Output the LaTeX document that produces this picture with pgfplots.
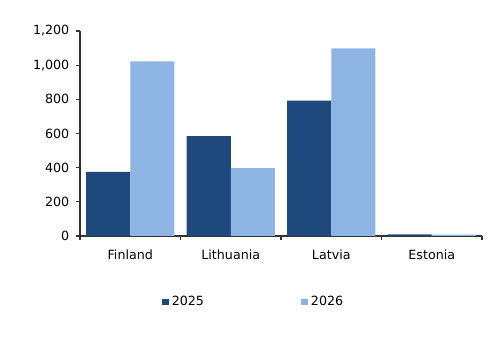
\documentclass[border=0pt]{standalone}
\usepackage{fontspec}
\setmainfont{DejaVu Sans}
\usepackage{pgfplots}
\pgfplotsset{compat=1.18}
\definecolor{dark}{RGB}{31,73,125}
\definecolor{light}{RGB}{141,180,226}
\begin{document}
\begin{tikzpicture}
\path[use as bounding box] (0,0) rectangle (375pt,264.75pt);
\begin{axis}[
  at={(60pt,87.75pt)}, anchor=south west,
  scale only axis, width=301.5pt, height=153.75pt,
  xmin=-0.5, xmax=3.5, ymin=0, ymax=1200,
  axis x line*=bottom, axis y line*=left,
  axis line style={black!80, line width=0.8pt},
  ytick={0,200,...,1200},
  xtick={0,1,2,3},
  xticklabels={Finland,Lithuania,Latvia,Estonia},
  minor xtick={-0.5,0.5,1.5,2.5,3.5},
  major x tick style={draw=none},
  minor x tick style={black!80, line width=0.8pt},
  y tick style={black!80, line width=0.8pt},
  tick align=outside, major tick length=3pt, minor tick length=3pt,
  /pgf/number format/1000 sep={,},
  /pgf/number format/assume math mode=true,
  ticklabel style={font=\fontsize{9.5}{11}\selectfont},
  yticklabel style={xshift=-1.5pt},
  xticklabel style={yshift=-4pt},
  ybar, bar width=0.44, 
  legend style={at={(0.433,-0.322)}, anchor=center, draw=none, font=\fontsize{9.5}{11}\selectfont, legend columns=2,
    /tikz/every even column/.append style={column sep=71pt}},
  legend image code/.code={\fill[#1] (0pt,-2.6pt) rectangle (5.2pt,2.6pt);},
]
\addplot[fill=dark, draw=none, bar shift=-0.22] coordinates {(0,375) (1,585) (2,792) (3,10)};
\addplot[fill=light, draw=none, bar shift=0.22] coordinates {(0,1022) (1,398) (2,1098) (3,8)};
\legend{2025,2026}
\end{axis}
\end{tikzpicture}
\end{document}
